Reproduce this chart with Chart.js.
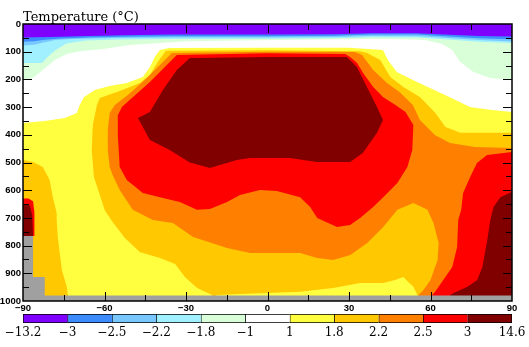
<!DOCTYPE html>
<html><head><meta charset="utf-8">
<script src="https://cdn.jsdelivr.net/npm/chart.js@4.4.0/dist/chart.umd.min.js"></script>
<style>
html,body{margin:0;padding:0;background:#fff;overflow:hidden}
#wrap{position:relative;width:529px;height:347px}
#main{position:absolute;left:0;top:0}
#bar{position:absolute;left:0;top:308px}
</style></head><body>
<div id="wrap"><canvas id="main" width="529" height="347"></canvas><canvas id="bar" width="529" height="39"></canvas></div>
<script>
// ---- tick / level data ----
const latTicks = [-90,-60,-30,0,30,60,90];
const latTickMarks = [-75,-60,-45,-30,-15,0,15,30,45,60,75];
const depthTickMarks = [50,100,150,200,250,300,350,400,450,500,550,600,650,700,750,800,850,900,950];
const levelLabels = ['\u221213.2','\u22123','\u22122.5','\u22122.2','\u22121.8','\u22121','1','1.8','2.2','2.5','3','14.6'];
const levelColors = ['#8000ff','#3c8cff','#78c8ff','#a0f0ff','#d8ffd8','#ffffff','#ffff40','#ffc800','#ff8000','#ff0000','#800000'];
const landColor = '#a0a0a0';

// ---- contour boundaries (latitude, depth) ----
const purpleBottom = [[-90,49],[-80,47],[-66,43],[-53,41],[-35,38],[0,38],[25,37],[38,33],[55,33],[65,38],[78,43],[90,45]];
const blueBottom = [[-90,64],[-86,62],[-82,57],[-76,52],[-66,49],[-53,46],[-35,44],[0,44],[25,42],[38,38],[55,38],[65,44],[78,51],[90,55]];
const lightBlueBottom = [[-90,78],[-86,75],[-82,66],[-78,58],[-72,54],[-62,51],[-50,50],[-35,49],[0,49],[25,47],[38,43],[55,44],[65,50],[78,58],[90,63]];
const cyanBottom = [[-90,141],[-83,141],[-81,119],[-78,94],[-74,70],[-67,60],[-54,56],[-35,54],[0,53],[25,51],[38,48],[55,49],[65,55],[78,64],[90,69]];
const greenBottom = [[-90,202],[-86.4,195],[-82.7,166],[-78.3,130],[-73.9,108],[-69,98],[-60.6,90],[-50.7,76],[-39.6,69],[-29.7,62],[-5,59],[20,56],[36,54],[46,54],[58,58],[64.3,72],[68,94],[70.2,126],[71,137],[75.8,173],[82,195],[90,202]];

const yellowRegion = [[-90,357],[-82,350],[-74.6,339],[-70.2,321],[-69.1,292],[-67.6,264],[-63.6,238],[-58.1,224],[-51.8,213],[-45.9,191],[-43.3,155],[-41.5,119],[-39.6,94],[-36,87],[0,86],[30,86],[42.5,94],[44.3,130],[47.6,173],[53.5,202],[59.8,231],[67.1,264],[74.5,300],[81.8,310],[90,318],[90,1000],[-90,1000]];
const goldRegion = [[-20.4,1000],[-20.4,978],[-25.9,953],[-30.4,913],[-34,866],[-39.6,845],[-47,823],[-52.5,773],[-57,715],[-59.9,672],[-61.7,617],[-63.9,552],[-64.7,455],[-64.3,365],[-62.8,292],[-61.7,267],[-54.4,242],[-47,213],[-43.3,184],[-40.4,137],[-37.4,97],[0,95],[34.1,98],[36.7,105],[41.5,130],[45.2,191],[50,227],[56.2,264],[61.8,321],[65.5,372],[71,393],[90,393],[90,1000],[55.2,1000],[55.2,978],[53.7,949],[51.8,931],[50,913],[47,924],[42.6,935],[34.1,935],[24.2,953],[12,967],[-0.2,971],[-10.1,975],[-18.6,978]];
const goldLeftBlob = [[-90,491],[-86.3,498],[-82.7,516],[-80.2,563],[-79,625],[-77.6,682],[-77.6,708],[-77.2,769],[-75.7,888],[-73.9,949],[-73.5,978],[-73.5,1000],[-90,1000]];
const orangeRegion = [[-35.2,105],[-39.6,148],[-45.2,202],[-51.4,256],[-56.2,292],[-58.1,321],[-58.8,383],[-58.8,455],[-58.1,516],[-57,545],[-54.4,599],[-49.6,671],[-42.2,708],[-34.8,718],[-27.4,769],[-14.9,809],[-6.4,827],[12,827],[18.3,845],[24.2,852],[30.5,834],[36.7,791],[42.6,733],[47.8,671],[53.7,646],[58.9,671],[61.1,718],[63,791],[62.6,852],[60,924],[57.4,960],[55.6,978],[55.6,1000],[90,1000],[90,448],[76.4,444],[67.2,430],[61.6,401],[56.1,347],[53.5,292],[48.7,246],[44,213],[38.9,166],[36.7,137],[34.8,112],[32.2,101],[0,100]];
const redRegion = [[-33.4,112],[-37.8,155],[-43.3,209],[-49.6,264],[-53.6,300],[-55.1,329],[-55.1,401],[-54.4,516],[-51.8,563],[-45.9,610],[-39.6,625],[-32.3,643],[-26,671],[-21.2,668],[-14.9,643],[-10.1,617],[-2.8,599],[3.4,603],[12,625],[15.7,661],[18.3,700],[25.6,733],[30.4,726],[34.1,700],[38.9,661],[42.6,625],[47.8,574],[51.5,516],[53.3,455],[53.7,365],[50.8,318],[47.1,292],[42.6,264],[38.9,227],[35.2,177],[33,141],[30.4,119],[28.6,108],[0,106]];
const darkRedCore = [[-28.6,123],[0.9,119],[29.2,119],[32.9,155],[36.6,227],[40.3,300],[42.5,347],[40.3,393],[35.1,466],[30.4,498],[18.2,498],[8.3,484],[-6.5,484],[-11.3,491],[-21.2,520],[-28.6,500],[-36,455],[-43.3,419],[-47.7,339],[-43.3,318],[-38.5,238],[-33.4,166]];
const redLeft = [[-90,630],[-88,630],[-86.3,640],[-85.8,680],[-85.8,765],[-90,765]];
const darkRedLeft = [[-90,650],[-87.5,655],[-86.6,690],[-86.3,765],[-90,765]];
const redRight = [[90,462],[80.8,473],[77.1,502],[74.6,552],[72,610],[71.3,671],[70.2,708],[69.8,805],[68,877],[64.7,924],[61.7,967],[60.6,978],[60.6,1000],[90,1000]];
const darkRedRight = [[90,606],[85.7,625],[83.2,661],[82,708],[80.9,780],[79.1,877],[77.2,924],[73.6,949],[68.5,971],[67.3,978],[67.3,1000],[90,1000]];
const landMask = [[-90,765],[-86.3,765],[-86.3,913],[-82,913],[-82,980],[90,980],[90,1000],[-90,1000]];

// ---- build layers (painted bottom first) ----
const fromTop = b => [[90,0],[-90,0]].concat(b);
const layers = [
  [yellowRegion, levelColors[6]],
  [goldRegion, levelColors[7]],
  [goldLeftBlob, levelColors[7]],
  [orangeRegion, levelColors[8]],
  [redRegion, levelColors[9]],
  [darkRedCore, levelColors[10]],
  [redLeft, levelColors[9]],
  [darkRedLeft, levelColors[10]],
  [redRight, levelColors[9]],
  [darkRedRight, levelColors[10]],
  [fromTop(greenBottom), levelColors[4]],
  [fromTop(cyanBottom), levelColors[3]],
  [fromTop(lightBlueBottom), levelColors[2]],
  [fromTop(blueBottom), levelColors[1]],
  [fromTop(purpleBottom), levelColors[0]],
  [landMask, landColor]
];
const datasets = layers.map(([poly, color], i) => ({
  data: poly.map(([x, y]) => ({x, y})),
  backgroundColor: color,
  borderColor: 'rgba(0,0,0,0)',
  borderWidth: 0,
  pointRadius: 0,
  pointHoverRadius: 0,
  pointHitRadius: 0,
  tension: 0,
  fill: 'shape',
  order: layers.length - i
}));

const frameTicks = {
  id: 'frameTicks',
  afterDatasetsDraw(chart) {
    const {ctx, chartArea: a, scales: {x, y}} = chart;
    ctx.save();
    ctx.strokeStyle = '#000';
    ctx.lineWidth = 1;
    ctx.beginPath();
    for (const v of latTickMarks) {
      const px = Math.round(x.getPixelForValue(v)) + 0.5;
      const L = (v % 30 === 0) ? 9 : 6;
      ctx.moveTo(px, a.top); ctx.lineTo(px, a.top + L);
      ctx.moveTo(px, a.bottom); ctx.lineTo(px, a.bottom - L);
    }
    for (const v of depthTickMarks) {
      const py = Math.round(y.getPixelForValue(v)) + 0.5;
      const L = (v % 100 === 0) ? 9 : 6;
      ctx.moveTo(a.left, py); ctx.lineTo(a.left + L, py);
      ctx.moveTo(a.right, py); ctx.lineTo(a.right - L, py);
    }
    ctx.stroke();
    ctx.lineWidth = 1.5;
    ctx.strokeRect(a.left, a.top, a.right - a.left, a.bottom - a.top);
    ctx.restore();
  }
};

const tickFont = {family: 'Liberation Sans', size: 9.5, weight: 'bold', lineHeight: 1};
const fmt = v => (v < 0 ? '\u2212' + Math.abs(v) : String(v));

new Chart(document.getElementById('main'), {
  type: 'line',
  data: {datasets},
  options: {
    responsive: false, animation: false, events: [],
    layout: {padding: {left: 0, right: 17, top: 0, bottom: 32}},
    plugins: {
      legend: {display: false}, tooltip: {enabled: false},
      title: {display: true, text: 'Temperature (\u00b0C)', align: 'start', fullSize: false,
        color: '#000', font: {family: 'DejaVu Serif', size: 13, weight: 'normal', lineHeight: 1},
        padding: {top: 11, bottom: 0}}
    },
    scales: {
      x: {type: 'linear', min: -90, max: 90, afterBuildTicks(s) { s.ticks = latTicks.map(v => ({value: v})); },
        grid: {display: false, drawTicks: false}, border: {display: false},
        ticks: {color: '#000', font: tickFont, padding: 3, maxRotation: 0, autoSkip: false, callback: fmt},
        afterFit(s) { s.height = 14; }},
      y: {type: 'linear', min: 0, max: 1000, reverse: true,
        grid: {display: false, drawTicks: false}, border: {display: false},
        ticks: {stepSize: 100, color: '#000', font: tickFont, padding: 2, autoSkip: false, callback: fmt},
        afterFit(s) { s.width = 23; }}
    }
  },
  plugins: [frameTicks]
});

new Chart(document.getElementById('bar'), {
  type: 'bar',
  data: {labels: [''], datasets: levelColors.map((c, i) => ({
    data: [1], backgroundColor: c, borderColor: '#000',
    borderWidth: {left: 1, top: 1, bottom: 1, right: i === levelColors.length - 1 ? 1 : 0},
    borderSkipped: false, barPercentage: 1, categoryPercentage: 1}))},
  options: {
    indexAxis: 'y', responsive: false, animation: false, events: [],
    layout: {padding: {left: 23, right: 17, top: 6, bottom: 0}},
    plugins: {legend: {display: false}, tooltip: {enabled: false}},
    scales: {
      x: {type: 'linear', stacked: true, min: 0, max: levelColors.length,
        grid: {display: false, drawTicks: false}, border: {display: false},
        ticks: {stepSize: 1, autoSkip: false, maxRotation: 0, padding: 3, color: '#000',
          font: {family: 'DejaVu Serif', size: 12}, callback: v => levelLabels[v]},
        afterFit(s) { s.height = 24; }},
      y: {stacked: true, display: false}
    }
  }
});
</script>
</body></html>
